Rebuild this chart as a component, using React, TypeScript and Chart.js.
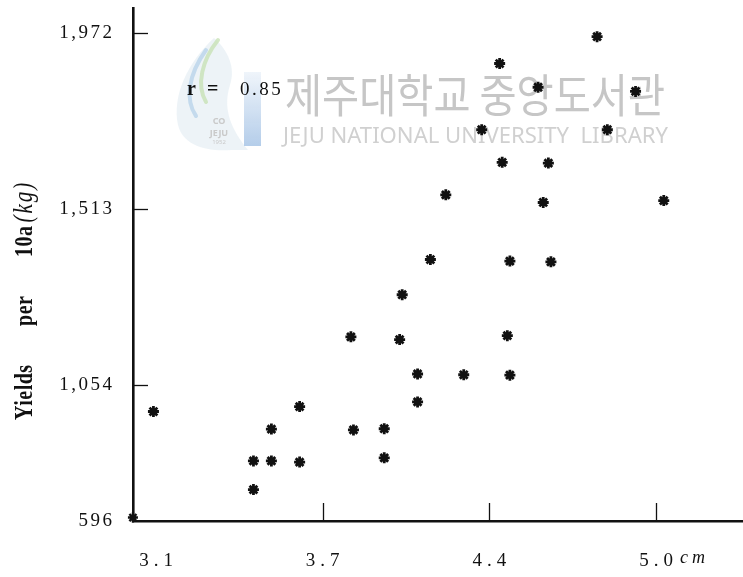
import React, { useEffect, useRef } from 'react';
import { Chart, registerables } from 'chart.js';

Chart.register(...registerables);

// ---- data ----
const stemDiameterCm = [3.09, 3.48, 3.48, 3.55, 3.55, 3.66, 3.66, 3.86, 3.87, 3.99, 3.99, 4.06, 4.05, 4.12, 4.12, 4.17, 4.23, 4.30, 4.37, 4.44, 4.45, 4.47, 4.48, 4.48, 4.59, 4.61, 4.63, 4.64, 4.82, 4.86, 4.97, 5.08];
const yieldsKg = [984, 780, 855, 855, 938, 997, 852, 1179, 936, 939, 863, 1289, 1172, 1082, 1009, 1381, 1550, 1080, 1720, 1893, 1635, 1182, 1377, 1079, 1831, 1530, 1633, 1375, 1963, 1720, 1820, 1535];
const originMarkX = [3.01];
const originMarkY = [707];

const xTickValues = [3.1, 3.75, 4.4, 5.05];
const xTickLabels = ['3.1', '3.7', '4.4', '5.0'];
const xTickMarks = [false, true, true, true];
const yTickValues = [698, 1054, 1513, 1972];
const yTickLabels = ['596', '1,054', '1,513', '1,972'];
const yTickMarks = [false, true, true, true];

const xMin = 3.0103;
const xMax = 5.389;
const yMin = 698;
const yMax = 2038;

const correlationParts = ['r', '=', '0.85'];
const xUnit = 'cm';
const yTitle = 'Yields per 10a';
const yTitleUnit = '(kg)';
const watermarkKo = '제주대학교 중앙도서관';
const watermarkEn = 'JEJU NATIONAL UNIVERSITY  LIBRARY';

const SERIF = '"Liberation Serif", "DejaVu Serif", serif';

function spaceLabels(scale: any, spacing: number, shiftX: number) {
  if (scale.$spaced) return;
  scale.$spaced = true;
  const orig = scale.drawLabels.bind(scale);
  scale.drawLabels = (area: any) => {
    const ctx = scale.ctx;
    ctx.save();
    (ctx as any).letterSpacing = spacing + 'px';
    ctx.translate(shiftX, 0);
    orig(area);
    ctx.restore();
  };
}

const decorPlugin = {
  id: 'decor',
  beforeDatasetsDraw(chart: any) {
    const ctx: CanvasRenderingContext2D = chart.ctx;
    ctx.save();
    (ctx as any).letterSpacing = '0px';
    // faint library logo
    ctx.fillStyle = 'rgba(214,228,238,0.45)';
    ctx.beginPath();
    ctx.moveTo(214, 38);
    ctx.bezierCurveTo(188, 62, 172, 95, 178, 125);
    ctx.bezierCurveTo(183, 145, 205, 152, 232, 150);
    ctx.lineTo(248, 150);
    ctx.bezierCurveTo(232, 130, 222, 110, 230, 85);
    ctx.bezierCurveTo(236, 68, 228, 50, 214, 38);
    ctx.fill();
    ctx.lineCap = 'round';
    ctx.strokeStyle = 'rgba(200,226,182,0.8)';
    ctx.lineWidth = 4;
    ctx.beginPath();
    ctx.moveTo(218, 40);
    ctx.bezierCurveTo(202, 60, 196, 85, 206, 102);
    ctx.stroke();
    ctx.strokeStyle = 'rgba(178,208,232,0.7)';
    ctx.lineWidth = 4;
    ctx.beginPath();
    ctx.moveTo(206, 50);
    ctx.bezierCurveTo(188, 75, 185, 100, 196, 116);
    ctx.stroke();
    const bar = ctx.createLinearGradient(0, 72, 0, 145);
    bar.addColorStop(0, 'rgba(150,185,225,0.15)');
    bar.addColorStop(1, 'rgba(150,185,225,0.7)');
    ctx.fillStyle = bar;
    ctx.fillRect(244, 72, 17, 74);
    ctx.fillStyle = '#cacaca';
    ctx.font = 'bold 9px "Noto Sans"';
    ctx.textAlign = 'center';
    ctx.fillText('CO', 219, 124);
    ctx.fillText('JEJU', 219, 136);
    ctx.font = '6px "Noto Sans"';
    ctx.fillText('1952', 219, 144);
    // watermark text
    ctx.textAlign = 'left';
    ctx.fillStyle = '#c6c6c6';
    ctx.font = '46px "Noto Sans CJK KR"';
    let w = ctx.measureText(watermarkKo).width;
    ctx.save();
    ctx.translate(285, 112);
    ctx.scale(380 / w, 1);
    ctx.fillText(watermarkKo, 0, 0);
    ctx.restore();
    ctx.fillStyle = '#d0d0d0';
    ctx.font = '22px "Noto Sans"';
    w = ctx.measureText(watermarkEn).width;
    ctx.save();
    ctx.translate(283, 143);
    ctx.scale(385 / w, 1);
    ctx.fillText(watermarkEn, 0, 0);
    ctx.restore();
    ctx.restore();
  },
  afterDraw(chart: any) {
    const ctx: CanvasRenderingContext2D = chart.ctx;
    const xs = chart.scales.x;
    const ys = chart.scales.y;
    ctx.save();
    ctx.strokeStyle = '#111';
    ctx.lineWidth = 1.3;
    xTickValues.forEach((v, i) => {
      if (!xTickMarks[i]) return;
      const px = Math.round(xs.getPixelForValue(v)) + 0.5;
      ctx.beginPath();
      ctx.moveTo(px, xs.top);
      ctx.lineTo(px, xs.top - 18);
      ctx.stroke();
    });
    yTickValues.forEach((v, i) => {
      if (!yTickMarks[i]) return;
      const py = Math.round(ys.getPixelForValue(v)) + 0.5;
      ctx.beginPath();
      ctx.moveTo(ys.right, py);
      ctx.lineTo(ys.right + 15, py);
      ctx.stroke();
    });
    ctx.fillStyle = '#111';
    ctx.textAlign = 'left';
    ctx.textBaseline = 'alphabetic';
    // unit of x axis
    (ctx as any).letterSpacing = '4px';
    ctx.font = 'italic 18px ' + SERIF;
    ctx.fillText(xUnit, xs.getPixelForValue(xTickValues[3]) + 24, 563);
    // correlation annotation
    (ctx as any).letterSpacing = '0px';
    ctx.font = 'bold 20px ' + SERIF;
    ctx.fillText(correlationParts[0], 187, 95);
    ctx.fillText(correlationParts[1], 207, 95);
    (ctx as any).letterSpacing = '2.5px';
    ctx.font = '19px ' + SERIF;
    ctx.fillText(correlationParts[2], 240, 95);
    // y-axis title (rotated)
    ctx.save();
    ctx.translate(32, 420);
    ctx.scale(1.28, 1);
    ctx.rotate(-Math.PI / 2);
    (ctx as any).letterSpacing = '0.5px';
    (ctx as any).wordSpacing = '33px';
    ctx.font = 'bold 20px ' + SERIF;
    ctx.fillText(yTitle, 0, 0);
    const tw = ctx.measureText(yTitle).width;
    (ctx as any).wordSpacing = '0px';
    (ctx as any).letterSpacing = '2px';
    ctx.font = 'italic 21px ' + SERIF;
    ctx.fillText(yTitleUnit, tw + 3, 0);
    ctx.restore();
    ctx.restore();
  },
};

export default function App() {
  const ref = useRef<HTMLCanvasElement | null>(null);
  useEffect(() => {
    if (!ref.current) return;
    const chart = new Chart(ref.current, {
      type: 'scatter',
      data: {
        datasets: [
          {
            label: 'Yields',
            data: stemDiameterCm.map((x, i) => ({ x, y: yieldsKg[i] })),
            pointStyle: 'star',
            pointRadius: 5.5,
            pointBorderWidth: 2.8,
            pointBorderColor: '#111',
            pointBackgroundColor: '#111',
            clip: false,
          },
          {
            label: 'origin',
            data: originMarkX.map((x, i) => ({ x, y: originMarkY[i] })),
            pointStyle: 'star',
            pointRadius: 5,
            pointBorderWidth: 2.4,
            pointBorderColor: '#111',
            pointBackgroundColor: '#111',
            clip: false,
          },
        ],
      },
      options: {
        responsive: false,
        animation: false,
        events: [],
        layout: { autoPadding: false, padding: { top: 8, left: 0, right: 0, bottom: 0 } },
        plugins: { legend: { display: false }, tooltip: { enabled: false } },
        scales: {
          x: {
            type: 'linear',
            min: xMin,
            max: xMax,
            afterBuildTicks: (s: any) => {
              s.ticks = xTickValues.map((v) => ({ value: v }));
            },
            afterFit: (s: any) => {
              s.height = 56;
              s.paddingLeft = 0;
              s.paddingRight = 0;
              spaceLabels(s, 5, 2.5);
            },
            ticks: {
              callback: (_v: any, i: number) => xTickLabels[i],
              font: { family: SERIF, size: 19 },
              color: '#111',
              padding: 29,
              maxRotation: 0,
              autoSkip: false,
            },
            grid: { display: true, drawOnChartArea: false, drawTicks: false },
            border: { display: true, color: '#111', width: 2.6 },
          },
          y: {
            type: 'linear',
            min: yMin,
            max: yMax,
            afterBuildTicks: (s: any) => {
              s.ticks = yTickValues.map((v) => ({ value: v }));
            },
            afterFit: (s: any) => {
              s.width = 133;
              s.paddingTop = 0;
              s.paddingBottom = 0;
              spaceLabels(s, 2.5, 2.5);
            },
            ticks: {
              callback: (_v: any, i: number) => yTickLabels[i],
              font: { family: SERIF, size: 19 },
              color: '#111',
              padding: 21,
              autoSkip: false,
            },
            grid: { display: true, drawOnChartArea: false, drawTicks: false },
            border: { display: true, color: '#111', width: 2.6 },
          },
        },
      },
      plugins: [decorPlugin],
    } as any);
    return () => chart.destroy();
  }, []);
  return (
    <div style={{ position: 'absolute', left: 0, top: 0, width: 743, height: 577, background: '#fff' }}>
      <canvas ref={ref} width={743} height={577} style={{ display: 'block' }} />
    </div>
  );
}
